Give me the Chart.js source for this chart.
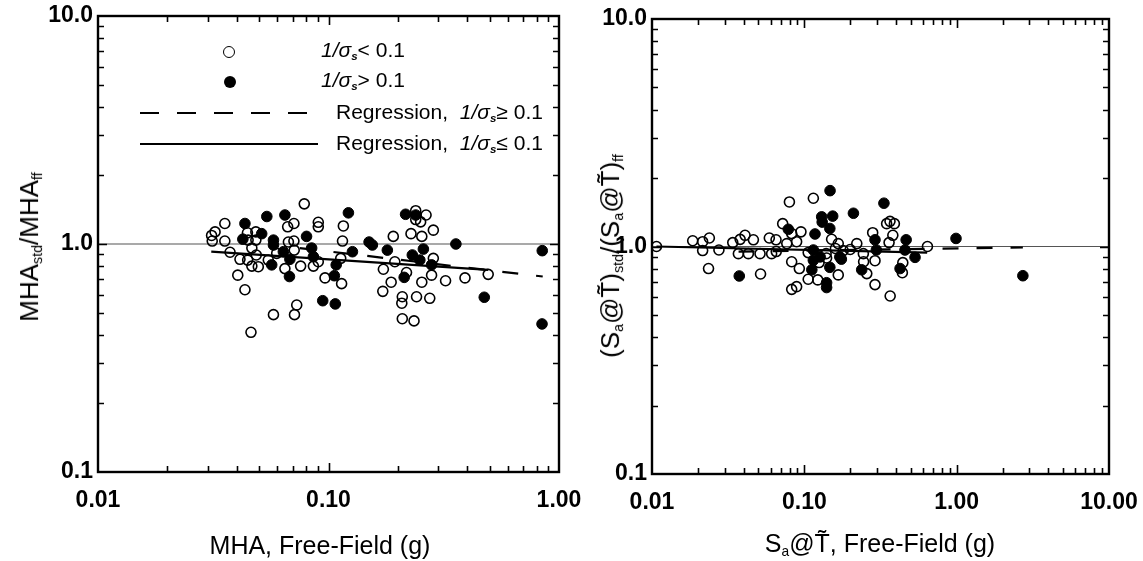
<!DOCTYPE html>
<html>
<head>
<meta charset="utf-8">
<script src="https://cdn.jsdelivr.net/npm/chart.js@4.4.1/dist/chart.umd.min.js"></script>
<style>
  html,body{margin:0;padding:0;background:#fff;}
  #wrap{position:relative;width:1143px;height:561px;overflow:hidden;font-family:"Liberation Sans",Arial,sans-serif;color:#000;}
  canvas{position:absolute;top:0;}
  .t{position:absolute;white-space:nowrap;line-height:1;}
  .xt{font-size:25px;transform:translate(-50%,-50%);}
  .yt{font-size:26px;transform:translate(-50%,-50%) rotate(-90deg);}
  sub{font-size:55%;vertical-align:-0.25em;}
  .lg{font-size:21px;transform:translateY(-50%);}
  .dot{position:absolute;width:10px;height:10px;border-radius:50%;transform:translate(-50%,-50%);}
</style>
</head>
<body>
<div id="wrap">
  <canvas id="c1" width="600" height="561" style="left:0px"></canvas>
  <canvas id="c2" width="553" height="561" style="left:590px"></canvas>

  <div class="t yt" style="left:30px;top:247px;">MHA<sub>std</sub>/MHA<sub>ff</sub></div>
  <div class="t yt" style="left:611px;top:256px;">(S<sub>a</sub>@T&#x303;)<sub>std</sub>/(S<sub>a</sub>@T&#x303;)<sub>ff</sub></div>
  <div class="t xt" style="left:320px;top:545px;">MHA, Free-Field (g)</div>
  <div class="t xt" style="left:880px;top:545px;">S<sub>a</sub>@T&#x303;, Free-Field (g)</div>

  <div class="dot" style="left:229px;top:52px;border:1.6px solid #000;background:transparent;"></div>
  <div class="t lg" style="left:321px;top:51px;"><i>1/σ</i><sub><b><i>s</i></b></sub>&lt; 0.1</div>
  <div class="dot" style="left:230px;top:82px;width:12px;height:12px;background:#000;"></div>
  <div class="t lg" style="left:321px;top:81px;"><i>1/σ</i><sub><b><i>s</i></b></sub>&gt; 0.1</div>
  <svg style="position:absolute;left:0;top:0" width="600" height="200">
    <line x1="140" y1="113" x2="310" y2="113" stroke="#000" stroke-width="2.2" stroke-dasharray="19 18"/>
    <line x1="140" y1="144" x2="318" y2="144" stroke="#000" stroke-width="2.2"/>
  </svg>
  <div class="t lg" style="left:336px;top:113px;">Regression,&nbsp; <i>1/σ</i><sub><b><i>s</i></b></sub>≥ 0.1</div>
  <div class="t lg" style="left:336px;top:144px;">Regression,&nbsp; <i>1/σ</i><sub><b><i>s</i></b></sub>≤ 0.1</div>
</div>

<script>
// ---------- data ----------
// Left panel: MHA free-field (g) vs MHA_std/MHA_ff
const leftOpenX = [0.0311,0.0322,0.0313,0.0355,0.0355,0.0374,0.0404,0.0434,0.0413,0.0445,0.0448,0.0446,0.0465,0.0465,0.0484,0.0486,0.0496,0.0484,0.0461,0.0577,0.0548,0.0596,0.0647,0.0665,0.0708,0.067,0.0708,0.071,0.0757,0.0728,0.0712,0.0785,0.0903,0.0903,0.086,0.0903,0.0966,0.114,0.116,0.115,0.113,0.173,0.172,0.191,0.187,0.194,0.209,0.208,0.209,0.235,0.218,0.228,0.239,0.239,0.251,0.265,0.254,0.285,0.254,0.241,0.275,0.280,0.285,0.322,0.391,0.493];
const leftOpenY = [1.09,1.13,1.03,1.23,1.03,0.92,0.73,0.63,0.857,1.12,1.04,0.85,0.80,0.96,1.13,0.895,0.795,1.04,0.41,0.49,0.85,0.91,0.78,1.19,1.23,1.02,1.03,0.94,0.80,0.54,0.49,1.50,1.245,1.19,0.80,0.836,0.71,0.67,1.20,1.03,0.865,0.775,0.62,1.08,0.68,0.836,0.587,0.55,0.47,0.46,0.75,1.11,1.40,1.28,1.25,1.34,1.08,1.15,0.68,0.587,0.578,0.73,0.865,0.69,0.71,0.736];
const leftFillX = [0.0434,0.0425,0.0513,0.054,0.0647,0.0577,0.0577,0.0567,0.0637,0.068,0.0677,0.0803,0.0845,0.086,0.0944,0.107,0.108,0.106,0.122,0.127,0.150,0.155,0.180,0.213,0.216,0.239,0.231,0.249,0.258,0.280,0.357,0.474,0.846,0.844];
const leftFillY = [1.23,1.05,1.11,1.32,1.34,1.04,0.99,0.81,0.925,0.857,0.72,1.08,0.96,0.88,0.564,0.546,0.81,0.726,1.37,0.925,1.02,0.99,0.94,0.714,1.35,1.34,0.895,0.85,0.95,0.81,1.0,0.584,0.935,0.446];
const leftDashX = [0.075,0.85];   // regression, 1/sigma >= 0.1
const leftDashY = [0.96,0.72];
const leftSolidX = [0.031,0.493]; // regression, 1/sigma <= 0.1
const leftSolidY = [0.925,0.77];

// Right panel: Sa@T free-field (g) vs ratio
const rightOpenX = [0.0107,0.0185,0.0215,0.0238,0.0215,0.0275,0.0235,0.0339,0.0379,0.0408,0.0369,0.0429,0.0463,0.0512,0.061,0.0516,0.0589,0.0652,0.0721,0.0798,0.0826,0.0927,0.0826,0.089,0.095,0.089,0.0767,0.106,0.1146,0.1225,0.167,0.167,0.151,0.106,0.221,0.244,0.245,0.257,0.291,0.281,0.347,0.365,0.390,0.381,0.36,0.443,0.44,0.366,0.643,0.0826,0.139,0.0654,0.291,0.16,0.18,0.14,0.20,0.125];
const rightOpenY = [1.0,1.06,1.05,1.09,0.96,0.965,0.80,1.04,1.075,1.12,0.93,0.93,1.07,0.93,0.93,0.757,1.09,1.07,1.26,1.57,0.857,0.80,0.648,0.666,1.16,1.05,1.03,0.718,1.63,0.713,1.03,0.75,1.076,0.94,1.03,0.93,0.857,0.76,0.866,1.15,1.26,1.29,1.26,1.12,1.04,0.849,0.767,0.606,1.0,1.14,0.93,0.95,0.68,0.98,0.96,0.89,0.97,0.85];
const rightFillX = [0.0374,0.0785,0.1175,0.1475,0.130,0.131,0.1535,0.147,0.210,0.333,0.1146,0.1146,0.112,0.140,0.147,0.171,0.127,0.238,0.291,0.297,0.425,0.466,0.458,0.533,0.99,2.72,0.175,0.140];
const rightFillY = [0.742,1.19,1.135,1.76,1.35,1.28,1.36,1.20,1.40,1.55,0.965,0.87,0.79,0.693,0.81,0.90,0.90,0.79,1.07,0.965,0.80,1.07,0.965,0.896,1.085,0.744,0.88,0.66];
const rightDashX = [0.037,2.72];
const rightDashY = [0.95,0.99];
const rightSolidX = [0.0107,0.64];
const rightSolidY = [1.0,0.94];

const leftRange = {xmin:0.01,xmax:1,ymin:0.1,ymax:10};
const rightRange = {xmin:0.01,xmax:10,ymin:0.1,ymax:10};

// ---------- helpers ----------
const zip = (xs, ys) => xs.map((x, i) => ({x, y: ys[i]}));
const FONT = '"Liberation Sans", Arial, sans-serif';
Chart.defaults.animation = false;
Chart.defaults.font.family = FONT;
Chart.defaults.color = '#000';

function pow10Label(v, digits){
  const l = Math.log10(v);
  if (Math.abs(l - Math.round(l)) < 1e-6) return Math.pow(10, Math.round(l)).toFixed(digits);
  return '';
}

const frameTicks = {
  id: 'frameTicks',
  afterDatasetsDraw(chart){
    const {ctx, chartArea: a, scales: {x, y}} = chart;
    ctx.save();
    ctx.strokeStyle = '#000';
    ctx.lineWidth = 1.6;
    ctx.beginPath();
    const vals = (mn, mx) => {
      const out = [];
      for (let d = Math.floor(Math.log10(mn)); d <= Math.ceil(Math.log10(mx)); d++) {
        for (let k = 1; k <= 9; k++) {
          const v = k * Math.pow(10, d);
          if (v > mn * 1.0001 && v < mx * 0.9999) out.push({v, major: k === 1});
        }
      }
      return out;
    };
    vals(x.min, x.max).forEach(t => {
      const p = Math.round(x.getPixelForValue(t.v)) + 0.5;
      const L = t.major ? 9 : 6;
      ctx.moveTo(p, a.bottom); ctx.lineTo(p, a.bottom - L);
      ctx.moveTo(p, a.top); ctx.lineTo(p, a.top + L);
    });
    vals(y.min, y.max).forEach(t => {
      const p = Math.round(y.getPixelForValue(t.v)) + 0.5;
      const L = t.major ? 9 : 6;
      ctx.moveTo(a.left, p); ctx.lineTo(a.left + L, p);
      ctx.moveTo(a.right, p); ctx.lineTo(a.right - L, p);
    });
    ctx.stroke();
    ctx.lineWidth = 2.4;
    ctx.strokeRect(a.left, a.top, a.right - a.left, a.bottom - a.top);
    ctx.restore();
  }
};

function makeChart(id, r, open, fill, dash, solid, yw, xh, pad, xdig){
  const xmin = r.xmin, xmax = r.xmax;
  return new Chart(document.getElementById(id), {
    type: 'scatter',
    data: {
      datasets: [
        {data: open, pointRadius: 5, pointBorderWidth: 1.6, borderColor: '#000', backgroundColor: 'rgba(0,0,0,0)', pointBackgroundColor: 'rgba(0,0,0,0)', order: 1},
        {data: fill, pointRadius: 5.3, pointBorderWidth: 1, borderColor: '#000', backgroundColor: '#000', order: 1},
        {data: [{x: xmin, y: 1}, {x: xmax, y: 1}], showLine: true, pointRadius: 0, borderColor: '#555', borderWidth: 1.2, order: 3},
        {data: dash, showLine: true, pointRadius: 0, borderColor: '#000', borderWidth: 2.2, borderDash: [16, 18], order: 2},
        {data: solid, showLine: true, pointRadius: 0, borderColor: '#000', borderWidth: 2.2, order: 2}
      ]
    },
    options: {
      responsive: false,
      devicePixelRatio: 1,
      layout: {padding: pad},
      plugins: {legend: {display: false}, tooltip: {enabled: false}},
      scales: {
        x: {
          type: 'logarithmic', min: r.xmin, max: r.xmax,
          grid: {display: false, drawTicks: false}, border: {display: false},
          ticks: {autoSkip: false, maxRotation: 0, padding: 15, color: '#000',
                  font: {family: FONT, size: 23, weight: 'bold'},
                  callback: (v) => pow10Label(v, xdig)},
          afterFit(s){ s.height = xh; s.paddingLeft = 0; s.paddingRight = 0; }
        },
        y: {
          type: 'logarithmic', min: r.ymin, max: r.ymax,
          grid: {display: false, drawTicks: false}, border: {display: false},
          ticks: {autoSkip: false, padding: 5, color: '#000',
                  font: {family: FONT, size: 23, weight: 'bold'},
                  callback: (v) => pow10Label(v, 1)},
          afterFit(s){ s.width = yw; s.paddingTop = 0; s.paddingBottom = 0; }
        }
      }
    },
    plugins: [frameTicks]
  });
}

makeChart('c1', leftRange, zip(leftOpenX, leftOpenY), zip(leftFillX, leftFillY),
  zip(leftDashX, leftDashY), zip(leftSolidX, leftSolidY), 98, 89,
  {left: 0, top: 16, right: 41, bottom: 0}, 2);
makeChart('c2', rightRange, zip(rightOpenX, rightOpenY), zip(rightFillX, rightFillY),
  zip(rightDashX, rightDashY), zip(rightSolidX, rightSolidY), 62, 87,
  {left: 0, top: 19, right: 34, bottom: 0}, 2);
</script>
</body>
</html>
